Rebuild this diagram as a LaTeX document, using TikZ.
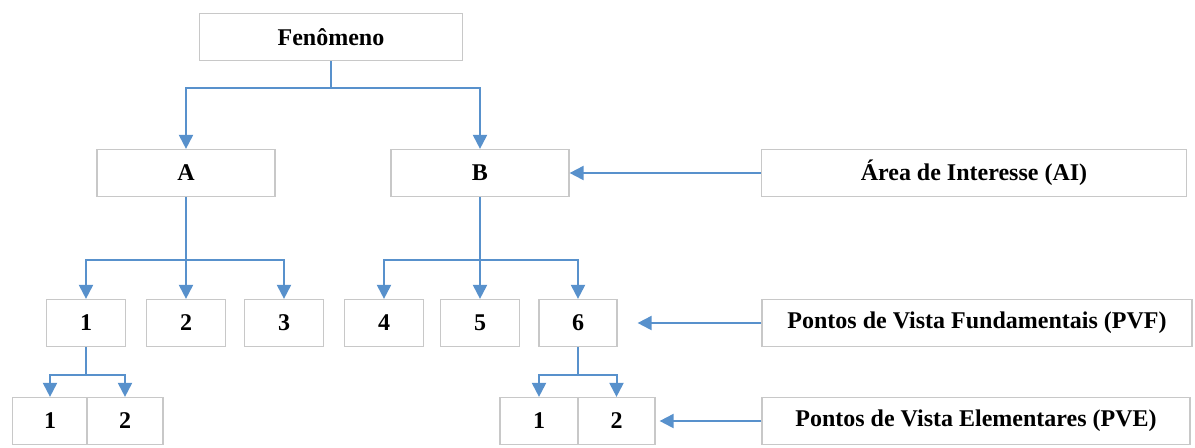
\documentclass[tikz,border=0pt]{standalone}
\usepackage{fontspec}
\setmainfont{Liberation Serif}
\usetikzlibrary{arrows.meta}
\definecolor{linkblue}{RGB}{88,145,204}
\definecolor{boxgray}{RGB}{200,200,200}

\begin{document}
\begin{tikzpicture}[x=0.5pt,y=-0.5pt,
    box/.style={draw=boxgray,line width=0.6pt,fill=white,inner sep=0pt,
        minimum height=23.5pt,font=\fontsize{12}{14}\selectfont\bfseries},
    link/.style={draw=linkblue,line width=1pt},
    arr/.style={link,-{Triangle[width=7pt,length=7pt]}}]
\useasboundingbox (0,0) rectangle (1195,447);

\node[box,minimum width=131.5pt] (fen) at (331,37) {Fenômeno};
\node[box,minimum width=89pt] (A) at (186,173) {A};
\node[box,minimum width=89pt] (B) at (480,173) {B};
\node[box,minimum width=212.5pt] (ai) at (974,173) {Área de Interesse (AI)};

\node[box,minimum width=39.5pt] (a1) at (86,323) {1};
\node[box,minimum width=39.5pt] (a2) at (186,323) {2};
\node[box,minimum width=39.5pt] (a3) at (284,323) {3};
\node[box,minimum width=39.5pt] (b4) at (384,323) {4};
\node[box,minimum width=39.5pt] (b5) at (480,323) {5};
\node[box,minimum width=39pt] (b6) at (578,323) {6};
\node[box,minimum width=215pt] (pvf) at (977,323) {Pontos de Vista Fundamentais (PVF)};

\node[box,minimum width=37.5pt] (a11) at (50,421) {1};
\node[box,minimum width=38pt] (a12) at (125,421) {2};
\node[box,minimum width=39pt] (b61) at (539,421) {1};
\node[box,minimum width=38.5pt] (b62) at (616.5,421) {2};
\node[box,minimum width=214pt] (pve) at (976,421) {Pontos de Vista Elementares (PVE)};

\coordinate (jfen) at (331,88);
\coordinate (jA) at (186,260);
\coordinate (jB) at (480,260);
\coordinate (ja1) at (86,375);
\coordinate (jb6) at (578,375);

\draw[link] (fen.south) -- (jfen);
\draw[arr] (jfen) -| (A.north);
\draw[arr] (jfen) -| (B.north);

\draw[link] (A.south) -- (jA);
\draw[arr] (jA) -| (a1.north);
\draw[arr] (jA) -- (a2.north);
\draw[arr] (jA) -| (a3.north);

\draw[link] (B.south) -- (jB);
\draw[arr] (jB) -| (b4.north);
\draw[arr] (jB) -- (b5.north);
\draw[arr] (jB) -| (b6.north);

\draw[link] (a1.south) -- (ja1);
\draw[arr] (ja1) -| (a11.north);
\draw[arr] (ja1) -| (a12.north);

\draw[link] (b6.south) -- (jb6);
\draw[arr] (jb6) -| (b61.north);
\draw[arr] (jb6) -| (b62.north);

\draw[arr] (ai.west) -- (B.east);
\draw[arr,shorten >=10pt] (pvf.west) -- (b6.east);
\draw[arr,shorten >=2pt] (pve.west) -- (b62.east);
\end{tikzpicture}
\end{document}
